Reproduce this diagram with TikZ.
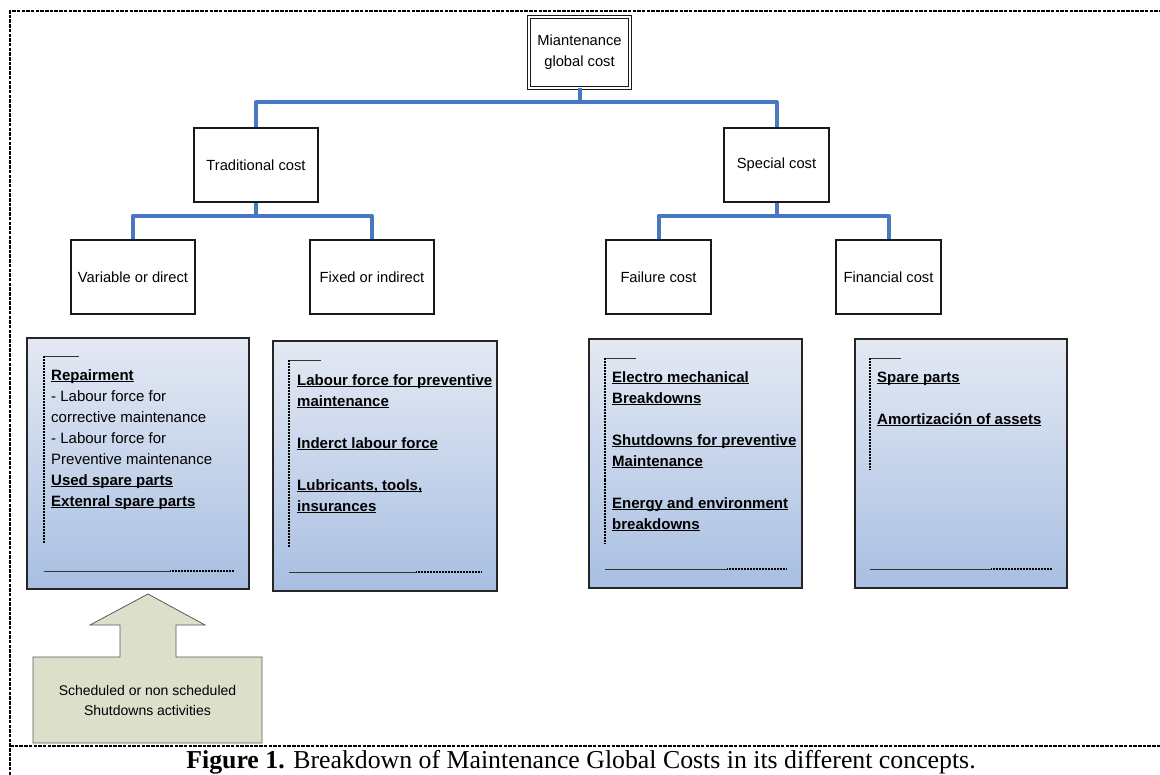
\documentclass[tikz,border=0pt]{standalone}
\usepackage{fontspec}
\setmainfont{Liberation Sans}
\newfontfamily\capfont{Liberation Serif}
\newsavebox{\hdbox}
\newcommand{\hd}[1]{\sbox{\hdbox}{\bfseries #1}\leavevmode\rlap{\rule[-2.2pt]{\wd\hdbox}{1pt}}\usebox{\hdbox}}
\newcommand{\fl}{\rule{0pt}{15pt}}
\definecolor{connblue}{RGB}{72,120,196}
\definecolor{boxtop}{RGB}{228,233,243}
\definecolor{boxbot}{RGB}{168,191,226}
\definecolor{notefill}{RGB}{220,224,203}
\tikzset{
  lbl/.style={draw=black!90, line width=1.1pt, fill=white, minimum height=74pt, inner sep=0pt,
    font=\fontsize{14.7}{21}\selectfont, align=center},
  conn/.style={draw=connblue, line width=4pt, line join=round},
  detail/.style={draw=black!85, line width=1.2pt, top color=boxtop, bottom color=boxbot, inner sep=0pt},
  dtext/.style={anchor=north west, inner sep=0pt, align=left, font=\fontsize{15}{21}\selectfont},
  brk/.style={draw=black!80, line width=0.9pt},
  brkdot/.style={draw=black, line width=1.2pt, dash pattern=on 1pt off 0.5pt},
  framestyle/.style={draw=black, line width=1.3pt, dash pattern=on 3.5pt off 1.2pt},
}
\begin{document}
\begin{tikzpicture}[x=1pt,y=-1pt]
\useasboundingbox (0,0) rectangle (1160,775);
% frame
\draw[framestyle] (10,775) -- (10,11) -- (1160,11);
\draw[framestyle] (10,746) -- (1160,746);
% hierarchy nodes
\node[lbl, double, double distance=1.6pt, line width=0.9pt, minimum width=101pt, minimum height=71pt] (top) at (579.5,52.5) {Miantenance\\global cost};
\node[lbl, minimum width=124pt] (trad) at (256,165) {Traditional cost};
\node[lbl, minimum width=105pt] (spec) at (776.5,165) {Special cost};
\node[lbl, minimum width=124pt] (var) at (133,277) {Variable or direct};
\node[lbl, minimum width=124pt] (fix) at (372,277) {Fixed or indirect};
\node[lbl, minimum width=105pt] (fail) at (658.5,277) {Failure cost};
\node[lbl, minimum width=105pt] (fin) at (888.5,277) {Financial cost};
% connectors
\draw[conn] (top.south) -- ++(0,14) -| (trad.north);
\draw[conn] (top.south) -- ++(0,14) -| (spec.north);
\draw[conn] (trad.south) -- ++(0,13) -| (var.north);
\draw[conn] (trad.south) -- ++(0,13) -| (fix.north);
\draw[conn] (spec.south) -- ++(0,13) -| (fail.north);
\draw[conn] (spec.south) -- ++(0,13) -| (fin.north);
% detail boxes
\node[detail, minimum width=222pt, minimum height=251pt] (d1) at (138,463.5) {};
\node[detail, minimum width=224pt, minimum height=250pt] (d2) at (385,466) {};
\node[detail, minimum width=213pt, minimum height=249pt] (d3) at (695.5,463.5) {};
\node[detail, minimum width=212pt, minimum height=249pt] (d4) at (961,463.5) {};
% brackets
\draw[brk] (44,356) -- (79,356);
\draw[brkdot] (44,356) -- (44,543);
\draw[brk] (44,571) -- (170,571); \draw[brkdot] (170,571) -- (234,571);
\draw[brk] (289,360) -- (321,360);
\draw[brkdot] (289,360) -- (289,547);
\draw[brk] (289,572) -- (416,572); \draw[brkdot] (416,572) -- (481,572);
\draw[brk] (605,358) -- (636,358);
\draw[brkdot] (605,358) -- (605,544);
\draw[brk] (605,569) -- (727,569); \draw[brkdot] (727,569) -- (787,569);
\draw[brk] (870,358) -- (901,358);
\draw[brkdot] (870,358) -- (870,470);
\draw[brk] (870,569) -- (991,569); \draw[brkdot] (991,569) -- (1052,569);
% detail texts (first baseline = y + 15)
\node[dtext] (t1) at (51,365) {\fl\hd{Repairment}\\- Labour force for\\corrective maintenance\\- Labour force for\\Preventive maintenance\\\hd{Used spare parts}\\\hd{Extenral spare parts}};
\node[dtext] (t2) at (297,370) {\fl\hd{Labour force for preventive}\\\hd{maintenance}\\[21pt]\hd{Inderct labour force}\\[21pt]\hd{Lubricants, tools,}\\\hd{insurances}};
\node[dtext] (t3) at (612,367) {\fl\hd{Electro mechanical}\\\hd{Breakdowns}\\[21pt]\hd{Shutdowns for preventive}\\\hd{Maintenance}\\[21pt]\hd{Energy and environment}\\\hd{breakdowns}};
\node[dtext] (t4) at (877,367) {\fl\hd{Spare parts}\\[21pt]\hd{Amortización of assets}};
% up arrow callout
\draw[draw=black!65, line width=0.8pt, fill=notefill] (33,657) -- (120,657) -- (120,625) -- (90,625) -- (148,594) -- (205,625) -- (176,625) -- (176,657) -- (262,657) -- (262,743) -- (33,743) -- cycle;
\node[align=center, inner sep=0pt, font=\fontsize{14}{20}\selectfont] (note) at (147.5,700) {Scheduled or non scheduled\\Shutdowns activities};
% caption
\node[anchor=base, inner sep=0pt, font=\capfont\fontsize{25.8}{28}\selectfont] (cap) at (581,768) {\textbf{Figure 1.} Breakdown of Maintenance Global Costs in its different concepts.};
\end{tikzpicture}
\end{document}
